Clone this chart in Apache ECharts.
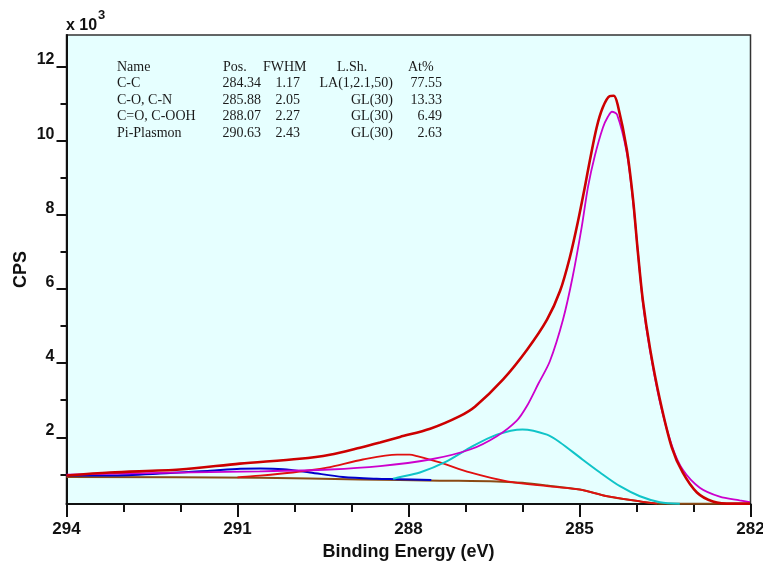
<!DOCTYPE html>
<html>
<head>
<meta charset="utf-8">
<script src="https://cdn.jsdelivr.net/npm/echarts@6/dist/echarts.min.js"></script>
<style>
html,body{margin:0;padding:0;background:#fff;}
#chart{width:763px;height:566px;}
</style>
</head>
<body>
<div id="chart"></div>
<script>
// ---- data (binding energy in eV, intensity in CPS) ----
const envelopeEV  = [294.00,293.24,292.01,290.96,289.91,289.38,288.85,288.50,288.15,287.62,287.10,286.83,286.34,285.92,285.57,285.34,285.17,285.03,284.90,284.82,284.70,284.59,284.47,284.40,284.33,284.17,284.06,283.98,283.89,283.76,283.59,283.38,283.19,282.94,282.66,282.31,282.01];
const envelopeCPS = [970,1050,1130,1290,1420,1530,1720,1860,2010,2230,2570,2830,3560,4360,5170,5950,6850,7800,8800,9450,10350,10900,11200,11210,10970,9760,8410,7060,5710,4370,3020,1720,1050,510,270,210,210];

const ccEV  = [294.00,292.36,290.61,289.38,288.50,287.62,286.92,286.45,286.10,285.92,285.72,285.52,285.29,285.12,284.96,284.85,284.73,284.59,284.50,284.43,284.34,284.17,284.06,283.89,283.76,283.59,283.38,283.19,282.89,282.54,282.19,282.01];
const ccCPS = [990,1040,1080,1130,1220,1400,1670,2030,2450,2850,3450,4050,5170,6330,7680,8760,9600,10350,10650,10780,10700,9670,8350,5660,4310,2960,1780,1130,640,400,300,250];

const coEV  = [288.27,288.20,287.80,287.33,286.92,286.45,286.00,285.57,285.34,284.99,284.64,284.29,283.94,283.59,283.24];
const coCPS = [880,910,1050,1350,1720,2070,2210,2070,1860,1450,1050,680,410,250,210];

const cooEV  = [291.00,290.73,290.03,289.43,288.80,288.20,287.98,287.85,287.45,286.92,286.27,285.57,284.99,284.52,283.94,283.64];
const cooCPS = [920,950,1050,1180,1400,1530,1530,1490,1320,1050,810,680,590,410,270,210];

const piEV  = [294.00,293.24,292.36,291.48,290.95,290.60,290.20,289.73,289.15,288.56,288.20,287.60];
const piCPS = [970,970,1020,1100,1150,1160,1140,1050,930,880,870,850];

const bgEV  = [294.00,290.61,288.85,287.45,286.45,286.00,285.57,284.99,284.52,283.94,283.59,282.01];
const bgCPS = [930,910,860,830,810,770,700,590,410,270,210,210];

// axis ticks
const xLabelTicks = [282,285,288,291,294];
const yMajorTicks = [2000,4000,6000,8000,10000,12000];
const yMinorTicks = [1000,3000,5000,7000,9000,11000];

// fit table
const tableHeader = ['Name','Pos.','FWHM','L.Sh.','At%'];
const compNames = ['C-C','C-O, C-N','C=O, C-OOH','Pi-Plasmon'];
const compPos   = ['284.34','285.88','288.07','290.63'];
const compFWHM  = ['1.17','2.05','2.27','2.43'];
const compLSh   = ['LA(1,2.1,50)','GL(30)','GL(30)','GL(30)'];
const compAt    = ['77.55','13.33','6.49','2.63'];

const zip = (a,b) => a.map((v,i)=>[v,b[i]]);

const FONT = "'Liberation Sans Narrow','Arial Narrow','Liberation Sans',Arial,sans-serif";
const SERIF = "'Liberation Serif','Times New Roman',serif";

// table graphics
const tableGraphics = [];
const headerX = [117,223,263,337,408];
const rowY = [67,83.5,100,116.5,133];
tableHeader.forEach((h,i)=>{
  tableGraphics.push({type:'text',x:headerX[i],y:rowY[0],style:{text:h,font:'14px '+SERIF,fill:'#1a1a1a',textVerticalAlign:'middle',textAlign:'left'}});
});
const colRight = [null,261,300,393,442];
compNames.forEach((n,r)=>{
  const y = rowY[r+1];
  tableGraphics.push({type:'text',x:117,y:y,style:{text:n,font:'14px '+SERIF,fill:'#1a1a1a',textVerticalAlign:'middle',textAlign:'left'}});
  [compPos[r],compFWHM[r],compLSh[r],compAt[r]].forEach((t,c)=>{
    tableGraphics.push({type:'text',x:colRight[c+1],y:y,style:{text:t,font:'14px '+SERIF,fill:'#1a1a1a',textVerticalAlign:'middle',textAlign:'right'}});
  });
});

const chart = echarts.init(document.getElementById('chart'), null, {renderer:'canvas'});
const lineSeries = (name, ev, cps, color, width) => ({
  name, type:'line', data: zip(ev,cps), showSymbol:false, symbol:'none',
  smooth:0.3, lineStyle:{color, width}, itemStyle:{color}, silent:true
});

chart.setOption({
  animation:false,
  backgroundColor:'#ffffff',
  grid:{left:66.5, right:12.5, top:35, bottom:62, show:true, backgroundColor:'#e6ffff',
        borderColor:'#333', borderWidth:1.5, containLabel:false, outerBoundsMode:'none'},
  xAxis:{
    type:'value', min:282, max:294, interval:3, inverse:true,
    name:'Binding Energy (eV)', nameLocation:'middle', nameGap:38,
    nameTextStyle:{fontFamily:FONT, fontWeight:'bold', fontSize:18, color:'#111'},
    axisLine:{show:true, lineStyle:{color:'#111', width:2}},
    axisTick:{show:true, inside:false, length:13, lineStyle:{color:'#111', width:2}},
    minorTick:{show:true, splitNumber:3, length:8, lineStyle:{color:'#111', width:2}},
    axisLabel:{customValues:xLabelTicks, margin:17, fontFamily:FONT, fontWeight:'bold', fontSize:17, color:'#111',
               showMinLabel:true, showMaxLabel:true},
    splitLine:{show:false}
  },
  yAxis:[{
    type:'value', min:200, max:12850, position:'left',
    name:'CPS', nameLocation:'middle', nameGap:36, nameRotate:90, nameMoveOverlap:false,
    nameTextStyle:{fontFamily:FONT, fontWeight:'bold', fontSize:18, color:'#111'},
    axisLine:{show:true, lineStyle:{color:'#111', width:2}},
    axisTick:{show:true, customValues:yMajorTicks, length:10, lineStyle:{color:'#111', width:2}},
    axisLabel:{customValues:yMajorTicks, formatter:v=>String(v/1000), margin:12,
               fontFamily:FONT, fontWeight:'bold', fontSize:16, color:'#111',
               verticalAlign:'bottom', lineHeight:13},
    splitLine:{show:false}
  },{
    type:'value', min:200, max:12850, position:'left', offset:0,
    axisLine:{show:false},
    axisTick:{show:true, customValues:yMinorTicks, length:6, lineStyle:{color:'#111', width:2}},
    axisLabel:{show:false},
    splitLine:{show:false}
  }],
  graphic:[
    {type:'text', left:66, top:18, style:{text:'x 10', font:'bold 16px '+FONT, fill:'#111'}},
    {type:'text', left:98, top:9, style:{text:'3', font:'bold 13px '+FONT, fill:'#111'}},
    ...tableGraphics
  ],
  series:[
    lineSeries('Background', bgEV, bgCPS, '#8b4a14', 2),
    lineSeries('Pi-Plasmon', piEV, piCPS, '#0000cc', 2),
    lineSeries('C=O, C-OOH', cooEV, cooCPS, '#e01010', 1.8),
    lineSeries('C-O, C-N', coEV, coCPS, '#10c4c8', 2),
    lineSeries('C-C', ccEV, ccCPS, '#cc00cc', 1.8),
    lineSeries('Envelope', envelopeEV, envelopeCPS, '#cc0000', 2.6)
  ]
});
</script>
</body>
</html>
